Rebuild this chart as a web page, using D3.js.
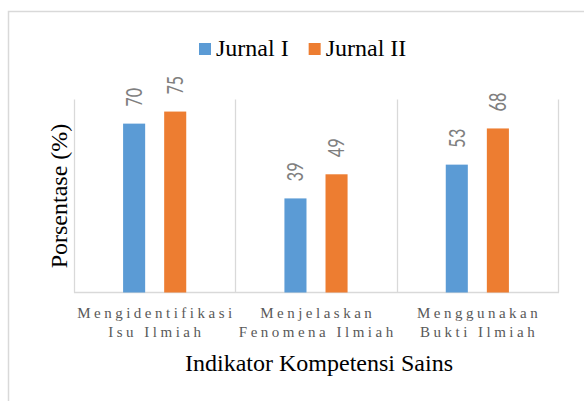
<!DOCTYPE html>
<html>
<head>
<meta charset="utf-8">
<script src="https://cdn.jsdelivr.net/npm/d3@7"></script>
<style>
  html, body { margin: 0; padding: 0; background: #fff; }
  svg { display: block; }
  .serif { font-family: 'Liberation Serif', 'Times New Roman', serif; }
  .calibri { font-family: Carlito, Calibri, 'Liberation Sans', sans-serif; }
</style>
</head>
<body>
<div id="chart"></div>
<script>
// data
const categories = ['Mengidentifikasi Isu Ilmiah', 'Menjelaskan Fenomena Ilmiah', 'Menggunakan Bukti Ilmiah'];
const categoryLines = [['Mengidentifikasi', 'Isu Ilmiah'], ['Menjelaskan', 'Fenomena Ilmiah'], ['Menggunakan', 'Bukti Ilmiah']];
const seriesNames = ['Jurnal I', 'Jurnal II'];
const jurnal1 = [70, 39, 53];
const jurnal2 = [75, 49, 68];
const yTicks = [0, 80];

const width = 584, height = 401;
const margin = { top: 99.5, right: 26, bottom: 108.5, left: 74 };
const colors = { 'Jurnal I': '#5B9BD5', 'Jurnal II': '#ED7D31' };
const gridColor = '#d9d9d9';

const svg = d3.select('#chart').append('svg')
    .attr('width', width)
    .attr('height', height);

// outer chart border (runs off the right and bottom of the page)
svg.append('rect')
    .attr('x', 8.5).attr('y', 11.5)
    .attr('width', width + 20).attr('height', height + 20)
    .attr('fill', 'none')
    .attr('stroke', gridColor)
    .attr('stroke-width', 1.5);

const x0 = d3.scaleBand()
    .domain(categories)
    .range([margin.left, width - margin.right])
    .padding(0);

const x1 = d3.scaleBand()
    .domain(seriesNames)
    .range([0, x0.bandwidth()])
    .paddingInner(0.463)
    .paddingOuter(1.195);

const y = d3.scaleLinear()
    .domain(d3.extent(yTicks))
    .range([height - margin.bottom, margin.top]);

const rows = categories.map((c, i) => ({
    category: c,
    values: [
        { series: 'Jurnal I', value: jurnal1[i] },
        { series: 'Jurnal II', value: jurnal2[i] }
    ]
}));

// vertical separators at category boundaries
const bounds = categories.map(c => x0(c)).concat([x0.range()[1]]);
svg.append('g')
    .selectAll('line')
    .data(bounds)
    .join('line')
    .attr('x1', d => Math.round(d) + 0.5)
    .attr('x2', d => Math.round(d) + 0.5)
    .attr('y1', y(80))
    .attr('y2', y(0))
    .attr('stroke', gridColor)
    .attr('stroke-width', 1.3);

// baseline
svg.append('line')
    .attr('x1', x0.range()[0])
    .attr('x2', x0.range()[1] + 1)
    .attr('y1', y(0))
    .attr('y2', y(0))
    .attr('stroke', gridColor)
    .attr('stroke-width', 1.3);

// bars
const groups = svg.append('g')
    .selectAll('g')
    .data(rows)
    .join('g')
    .attr('transform', d => `translate(${x0(d.category)},0)`);

groups.selectAll('rect')
    .data(d => d.values)
    .join('rect')
    .attr('x', d => x1(d.series))
    .attr('y', d => y(d.value))
    .attr('width', x1.bandwidth())
    .attr('height', d => y(0) - y(d.value))
    .attr('fill', d => colors[d.series]);

// value labels, rotated, tall and narrow
const labelSize = 18.5, labelStretch = 1.35;
groups.selectAll('text')
    .data(d => d.values)
    .join('text')
    .attr('class', 'calibri')
    .attr('transform', d => {
        const cx = x1(d.series) + x1.bandwidth() / 2 + 0.632 * labelSize * labelStretch / 2;
        return `translate(${cx},${y(d.value) - 17}) rotate(-90) scale(1,${labelStretch})`;
    })
    .attr('font-size', labelSize)
    .attr('fill', '#7f7f7f')
    .text(d => d.value);

// category labels, letter-spaced
const spacing = 3.5;
const catLabels = svg.append('g')
    .selectAll('text')
    .data(categories)
    .join('text')
    .attr('class', 'serif')
    .attr('font-size', 15)
    .attr('fill', '#595959')
    .attr('letter-spacing', spacing)
    .attr('text-anchor', 'middle');

catLabels.selectAll('tspan')
    .data((d, i) => categoryLines[i].map(line => ({ line, cx: x0(d) + x0.bandwidth() / 2 })))
    .join('tspan')
    .attr('x', d => d.cx + spacing / 2)
    .attr('y', (d, i) => 318 + i * 19)
    .text(d => d.line);

// axis titles
svg.append('text')
    .attr('class', 'serif')
    .attr('x', (x0.range()[0] + x0.range()[1]) / 2 + 3)
    .attr('y', 371)
    .attr('text-anchor', 'middle')
    .attr('font-size', 24)
    .attr('fill', '#000')
    .text('Indikator Kompetensi Sains');

svg.append('text')
    .attr('class', 'serif')
    .attr('transform', `translate(67,${(y(0) + y(80)) / 2}) rotate(-90)`)
    .attr('text-anchor', 'middle')
    .attr('font-size', 24)
    .attr('fill', '#000')
    .text('Porsentase (%)');

// legend
const legend = svg.append('g').attr('transform', 'translate(199,43)');
let lx = 0;
seriesNames.forEach(name => {
    const item = legend.append('g').attr('transform', `translate(${lx},0)`);
    item.append('rect')
        .attr('width', 12)
        .attr('height', 12)
        .attr('fill', colors[name]);
    const t = item.append('text')
        .attr('class', 'serif')
        .attr('x', 17)
        .attr('y', 13)
        .attr('font-size', 24)
        .attr('fill', '#000')
        .text(name);
    lx += 17 + t.node().getComputedTextLength() + 20;
});
</script>
</body>
</html>
